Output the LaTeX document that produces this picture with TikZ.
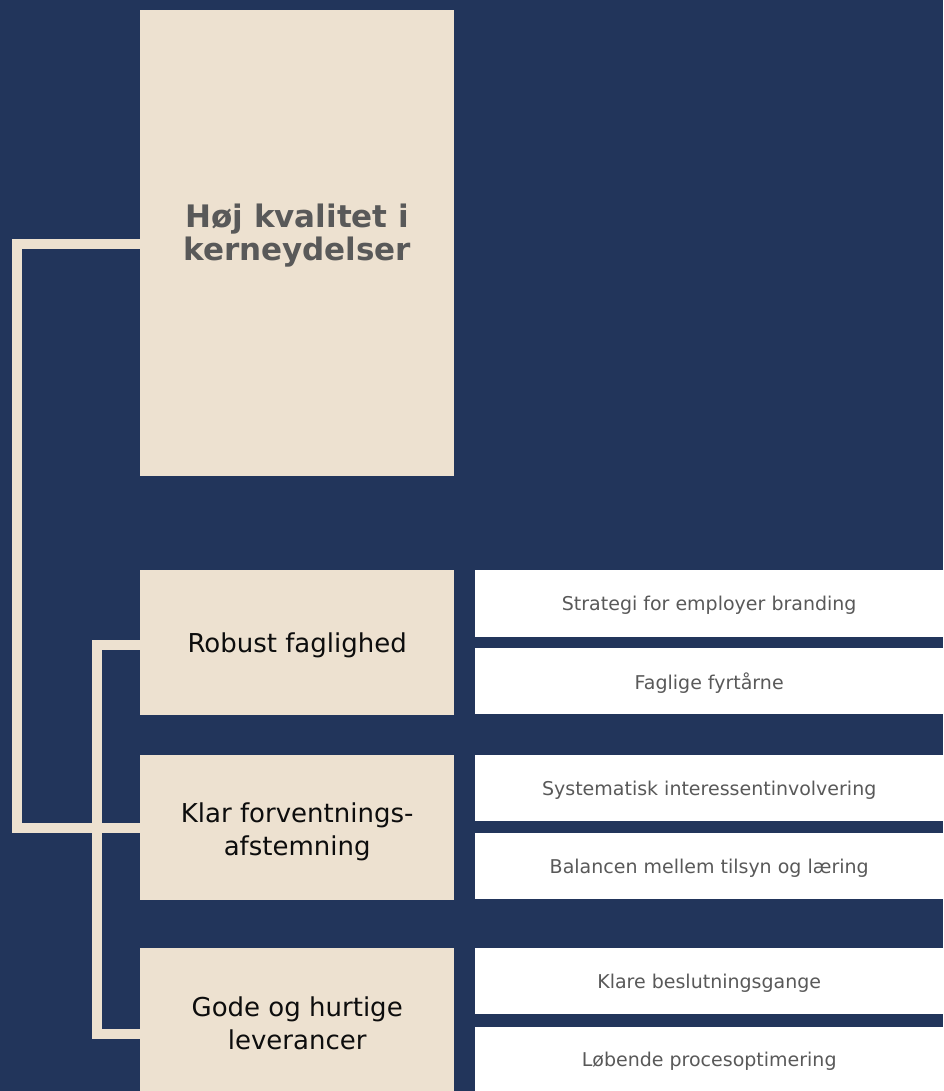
\documentclass[tikz,border=0pt]{standalone}
\usepackage{fontspec}
\setmainfont{DejaVu Sans}
\definecolor{navy}{RGB}{34,53,91}
\definecolor{beige}{RGB}{237,225,208}
\definecolor{txtgray}{RGB}{89,89,89}
\definecolor{txtdark}{RGB}{13,13,13}
\begin{document}
\begin{tikzpicture}[x=1pt,y=-1pt,
  mainbox/.style={fill=beige, draw=none, inner sep=0pt, minimum width=314pt, anchor=north west},
  maintext/.style={inner sep=0pt, align=center, text=txtdark, font=\fontsize{26}{33}\selectfont},
  subbox/.style={fill=white, draw=none, inner sep=0pt, minimum width=468pt, anchor=north west},
  subtext/.style={inner sep=0pt, align=center, text=txtgray, font=\fontsize{19}{23}\selectfont},
  conn/.style={draw=beige, line width=10pt, line join=miter}]
\fill[navy] (0,0) rectangle (943,1091);
\useasboundingbox (0,0) rectangle (943,1091);

\node[mainbox, minimum height=466pt] (top) at (140,10) {};
\node[mainbox, minimum height=145pt] (robust) at (140,570) {};
\node[mainbox, minimum height=145pt] (klar) at (140,755) {};
\node[mainbox, minimum height=143pt] (gode) at (140,948) {};

\node[maintext, text=txtgray, font=\bfseries\fontsize{31}{33}\selectfont] (toptext) at ([yshift=8pt]top.center) {Høj kvalitet i\\kerneydelser};
\node[maintext] (robusttext) at ([yshift=-3pt]robust.center) {Robust faglighed};
\node[maintext] (klartext) at ([yshift=-4pt]klar.center) {Klar forventnings-\\afstemning};
\node[maintext] (godetext) at ([yshift=-4pt]gode.center) {Gode og hurtige\\leverancer};

\node[subbox, minimum height=67pt] (s1) at (475,570) {};
\node[subbox, minimum height=66pt] (s2) at (475,648) {};
\node[subbox, minimum height=66pt] (s3) at (475,755) {};
\node[subbox, minimum height=66pt] (s4) at (475,833) {};
\node[subbox, minimum height=66pt] (s5) at (475,948) {};
\node[subbox, minimum height=64pt] (s6) at (475,1027) {};

\node[subtext] (t1) at ([yshift=-2pt]s1.center) {Strategi for employer branding};
\node[subtext] (t2) at ([yshift=-2pt]s2.center) {Faglige fyrtårne};
\node[subtext] (t3) at ([yshift=-2pt]s3.center) {Systematisk interessentinvolvering};
\node[subtext] (t4) at ([yshift=-2pt]s4.center) {Balancen mellem tilsyn og læring};
\node[subtext] (t5) at ([yshift=-2pt]s5.center) {Klare beslutningsgange};
\node[subtext] (t6) at ([yshift=-2pt]s6.center) {Løbende procesoptimering};

\draw[conn] ([yshift=-1pt]top.west) -- ++(-123,0) |- (klar.west);
\draw[conn] ([yshift=-2pt]robust.west) -- ++(-43,0) |- ([yshift=-14pt]gode.west);
\end{tikzpicture}
\end{document}
